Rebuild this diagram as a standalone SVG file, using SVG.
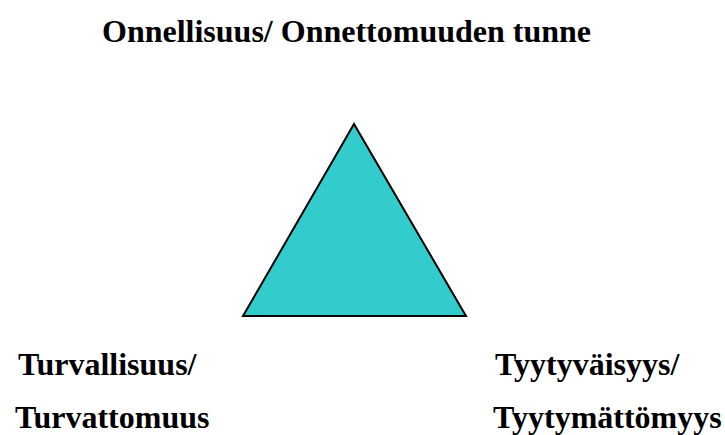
<svg xmlns="http://www.w3.org/2000/svg" width="725" height="435" viewBox="0 0 725 435">
<style>
text{font-family:"Liberation Serif","Times New Roman",serif;font-weight:bold;font-size:32px;fill:#000}
</style>
<rect width="725" height="435" fill="#fff"/>
<g id="title"><text x="102" y="42">Onnellisuus/ Onnettomuuden tunne</text></g>
<g id="triangle"><polygon points="354,124 243,316 466,316" fill="#33CCCC" stroke="#000" stroke-width="2" stroke-linejoin="miter"/></g>
<g id="left"><text x="18" y="375">Turvallisuus/</text><text x="15" y="428">Turvattomuus</text></g>
<g id="right"><text x="495" y="375">Tyytyväisyys/</text><text x="493" y="428">Tyytymättömyys</text></g>
<g id="connectors"/>
</svg>
